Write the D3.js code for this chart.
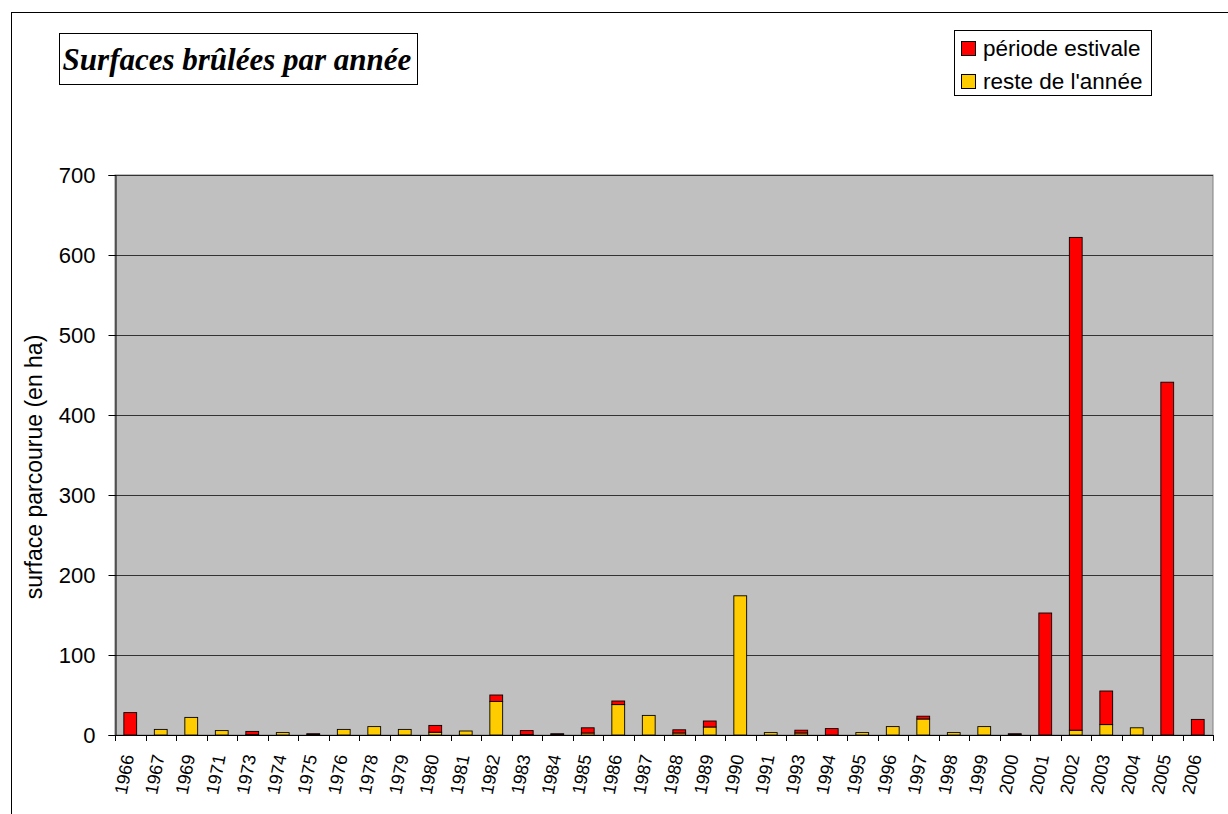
<!DOCTYPE html>
<html><head><meta charset="utf-8">
<script src="https://cdn.jsdelivr.net/npm/d3@7"></script>
<style>body{margin:0;background:#fff;}svg{display:block;}</style>
</head><body>
<script>
const years = ["1966","1967","1969","1971","1973","1974","1975","1976","1978","1979","1980","1981","1982","1983","1984","1985","1986","1987","1988","1989","1990","1991","1993","1994","1995","1996","1997","1998","1999","2000","2001","2002","2003","2004","2005","2006"];
const summer = [28,0,0,0,4,0,0.5,0,0,0,8.5,0,8,5,0.5,6.5,4.5,0,4,7.5,0,0,3.5,8,0,0,3.5,0,0,0.5,152.5,616,42,0,441,19.5];
const rest   = [0,7,22,5.5,0.5,3,1,7,10.5,7,3.5,5,42,0.5,1,2.5,38,24.5,2.5,10,174,3,2.5,0,3,10.5,20,3,10.5,1,0,6,13,9,0,0];
const yTicks = [0,100,200,300,400,500,600,700];
const seriesNames = ["période estivale","reste de l'année"];
const colors = {summer:"#FF0000", rest:"#FFCC00"};

const W=1228,H=814;
const svg=d3.select("body").append("svg").attr("width",W).attr("height",H);
const m={left:115,right:1213,top:175,bottom:735};
const sans="Liberation Sans, Arial, sans-serif";

// outer chart border
svg.append("rect").attr("x",11.5).attr("y",12.5).attr("width",1230).attr("height",820)
  .attr("fill","none").attr("stroke","#000").attr("stroke-width",1);

const x=d3.scaleBand().domain(years).range([m.left,m.right]).paddingInner(0.58).paddingOuter(0.29);
const y=d3.scaleLinear().domain([0,700]).range([m.bottom,m.top]);

// plot area
svg.append("rect").attr("x",m.left).attr("y",m.top).attr("width",m.right-m.left).attr("height",m.bottom-m.top)
  .attr("fill","#C0C0C0").attr("stroke","#808080").attr("stroke-width",1);

// gridlines
svg.append("g").selectAll("line").data(yTicks.filter(d=>d>0)).join("line")
  .attr("x1",m.left).attr("x2",m.right)
  .attr("y1",d=>Math.round(y(d))+0.5).attr("y2",d=>Math.round(y(d))+0.5)
  .attr("stroke","#333").attr("stroke-width",1);

// bars
const data=years.map((yr,i)=>({yr,s:summer[i],r:rest[i]}));
const g=svg.append("g");
g.selectAll("rect.rest").data(data).join("rect").attr("class","rest")
  .attr("x",d=>x(d.yr)).attr("width",x.bandwidth())
  .attr("y",d=>y(d.r)).attr("height",d=>y(0)-y(d.r))
  .attr("fill",colors.rest).attr("stroke","#000").attr("stroke-width",0.9);
g.selectAll("rect.summer").data(data).join("rect").attr("class","summer")
  .attr("x",d=>x(d.yr)).attr("width",x.bandwidth())
  .attr("y",d=>y(d.r+d.s)).attr("height",d=>y(d.r)-y(d.r+d.s))
  .attr("fill",colors.summer).attr("stroke","#000").attr("stroke-width",0.9);

// y axis
const yAxis=svg.append("g").attr("transform",`translate(${m.left+0.5},0)`)
  .call(d3.axisLeft(y).tickValues(yTicks).tickSize(7).tickPadding(13));
yAxis.select(".domain").attr("stroke","#000");
yAxis.selectAll("text").attr("font-family",sans).attr("font-size",22).attr("fill","#000");

// x axis with ticks at category boundaries
const bounds=d3.range(years.length+1).map(i=>m.left+i*(m.right-m.left)/years.length);
svg.append("line").attr("x1",m.left).attr("x2",m.right).attr("y1",m.bottom+0.5).attr("y2",m.bottom+0.5).attr("stroke","#000");
svg.append("g").selectAll("line").data(bounds).join("line")
  .attr("x1",d=>Math.round(d)+0.5).attr("x2",d=>Math.round(d)+0.5)
  .attr("y1",m.bottom).attr("y2",m.bottom+6).attr("stroke","#000");
svg.append("g").selectAll("text").data(years).join("text")
  .attr("transform",d=>`translate(${x(d)+x.bandwidth()/2+4},${m.bottom+21}) rotate(-79)`)
  .attr("text-anchor","end").attr("font-family",sans).attr("font-size",18)
  .attr("fill","#000").text(d=>d);

// y title
svg.append("text").attr("transform","translate(42,467) rotate(-90)").attr("text-anchor","middle")
  .attr("font-family",sans).attr("font-size",23).attr("fill","#000")
  .text("surface parcourue (en ha)");

// title box
svg.append("rect").attr("x",59.5).attr("y",33.5).attr("width",358).attr("height",51).attr("fill","#fff").attr("stroke","#000");
svg.append("text").attr("x",237).attr("y",70).attr("text-anchor","middle")
  .attr("font-family","Liberation Serif, Times New Roman, serif").attr("font-size",31).attr("font-weight","bold").attr("font-style","italic")
  .text("Surfaces brûlées par année");

// legend
const lg=svg.append("g");
lg.append("rect").attr("x",954.5).attr("y",30.5).attr("width",197).attr("height",65).attr("fill","#fff").attr("stroke","#000");
const legendItems=[{name:seriesNames[0],c:colors.summer},{name:seriesNames[1],c:colors.rest}];
legendItems.forEach((it,i)=>{
  lg.append("rect").attr("x",961.5).attr("y",41.5+i*33).attr("width",14).attr("height",14).attr("fill",it.c).attr("stroke","#000");
  lg.append("text").attr("x",983).attr("y",56+i*33).attr("font-family",sans).attr("font-size",22.5).attr("fill","#000").text(it.name);
});
</script>
</body></html>
